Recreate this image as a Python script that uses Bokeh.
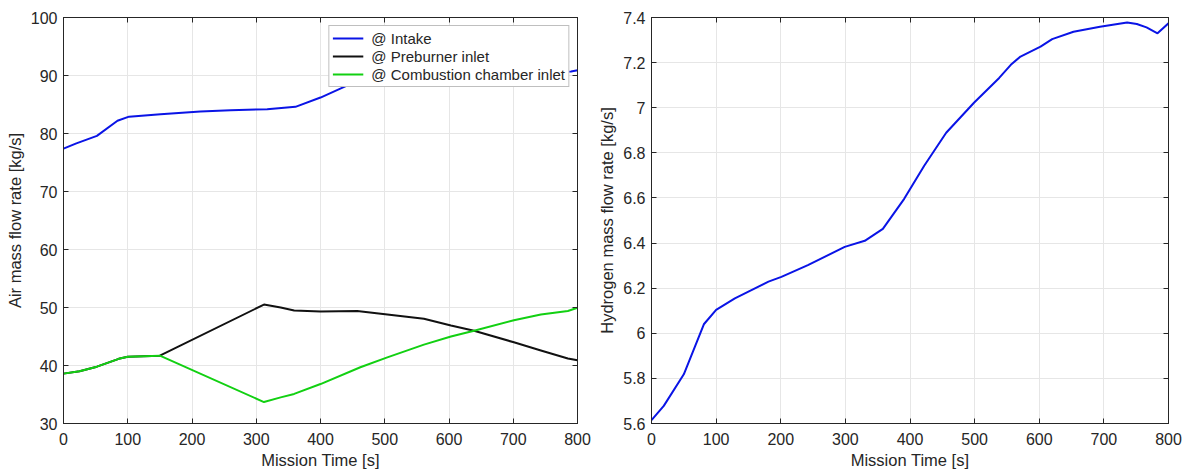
from bokeh.plotting import figure
from bokeh.layouts import row
from bokeh.models import (LinearAxis, FixedTicker, Range1d, Legend, LegendItem,
                          CustomJSTickFormatter, CustomLabelingPolicy)
from bokeh.embed import file_html
from bokeh.resources import INLINE

# ---------------- data ----------------
t_intake = [0, 20, 52, 84, 102, 151, 213, 260, 317, 361, 400, 442, 500, 560, 620, 700, 790, 800]
intake = [77.4, 78.3, 79.6, 82.2, 82.9, 83.3, 83.8, 84.0, 84.2, 84.6, 86.2, 88.3, 89.5, 90.0,
          90.2, 90.4, 90.7, 90.9]

t_pre = [0, 25, 52, 86, 100, 150, 312, 338, 359, 400, 457, 504, 561, 603, 639, 701, 743, 785, 800]
pre = [38.6, 39.0, 39.8, 41.15, 41.5, 41.7, 50.5, 50.0, 49.5, 49.3, 49.4, 48.8, 48.05, 46.9,
       46.0, 44.0, 42.6, 41.2, 40.9]

t_cc = [0, 25, 52, 86, 100, 150, 312, 338, 359, 400, 462, 504, 561, 603, 639, 701, 743, 785, 800]
cc = [38.6, 39.0, 39.8, 41.15, 41.5, 41.7, 33.7, 34.5, 35.1, 36.8, 39.7, 41.4, 43.6, 45.0,
      46.0, 47.8, 48.8, 49.4, 49.95]

t_h2 = [0, 19, 50, 81, 100, 129, 150, 181, 201, 242, 299, 330, 358, 391, 422, 456, 499, 538,
        556, 571, 602, 620, 653, 694, 736, 751, 766, 783, 800]
h2 = [5.615, 5.678, 5.818, 6.04, 6.104, 6.155, 6.185, 6.229, 6.25, 6.302, 6.383, 6.41, 6.463,
      6.596, 6.743, 6.889, 7.022, 7.132, 7.19, 7.227, 7.271, 7.304, 7.337, 7.359, 7.378, 7.371,
      7.356, 7.33, 7.374]

x_ticks = [0, 100, 200, 300, 400, 500, 600, 700, 800]
y1_ticks = [30, 40, 50, 60, 70, 80, 90, 100]
y2_ticks = [5.6, 5.8, 6.0, 6.2, 6.4, 6.6, 6.8, 7.0, 7.2, 7.4]

labels = ["@ Intake", "@ Preburner inlet", "@ Combustion chamber inlet"]

FONT = "Liberation Sans"
TXT = "#262626"
AX = "#262626"
GRID = "#e6e6e6"
BLUE = "#0a14e6"
GREEN = "#12d012"
BLACK = "#111111"


def style(p, xt, yt, ylabel, yfmt=None):
    p.xaxis.ticker = FixedTicker(ticks=xt)
    p.yaxis.ticker = FixedTicker(ticks=yt)
    if yfmt is not None:
        p.yaxis.formatter = yfmt
    for ax in p.xaxis + p.yaxis:
        ax.major_tick_in = 5
        ax.major_tick_out = 0
        ax.minor_tick_line_color = None
        ax.axis_line_color = AX
        ax.major_tick_line_color = AX
        ax.major_label_text_font = FONT
        ax.major_label_text_font_size = "16px"
        ax.major_label_text_color = TXT
        ax.axis_label_text_font = FONT
        ax.axis_label_text_font_size = "16.5px"
        ax.axis_label_text_font_style = "normal"
        ax.axis_label_text_color = TXT
        ax.major_label_standoff = 6
    p.xaxis.axis_label = "Mission Time [s]"
    p.xaxis.major_label_standoff = 9
    p.xaxis.axis_label_standoff = 3
    p.yaxis.axis_label = ylabel
    p.yaxis.axis_label_standoff = 4
    p.xgrid.ticker = FixedTicker(ticks=xt)
    p.ygrid.ticker = FixedTicker(ticks=yt)
    p.grid.grid_line_color = GRID
    p.outline_line_color = AX
    p.outline_line_alpha = 1.0
    # mirrored ticks on top and right (MATLAB box), without labels
    for loc in ("above", "right"):
        a = LinearAxis(ticker=FixedTicker(ticks=xt if loc == "above" else yt))
        a.major_tick_in = 5
        a.major_tick_out = 0
        a.minor_tick_line_color = None
        a.major_label_policy = CustomLabelingPolicy(code="return []")
        a.major_label_text_font_size = "1px"
        a.major_label_standoff = 0
        a.axis_line_color = AX
        a.major_tick_line_color = AX
        p.add_layout(a, loc)


# ---------------- left figure ----------------
p1 = figure(width=595, height=473, output_backend="svg", toolbar_location=None,
            x_range=Range1d(0, 800), y_range=Range1d(30, 100),
            min_border_left=63, min_border_right=18, min_border_top=17, min_border_bottom=50)
p1.background_fill_color = "white"
style(p1, x_ticks, y1_ticks, "Air mass flow rate [kg/s]")

r1 = p1.line(t_intake, intake, line_color=BLUE, line_width=2)
r2 = p1.line(t_pre, pre, line_color=BLACK, line_width=2)
r3 = p1.line(t_cc, cc, line_color=GREEN, line_width=2)

leg = Legend(items=[LegendItem(label=labels[0], renderers=[r1]),
                    LegendItem(label=labels[1], renderers=[r2]),
                    LegendItem(label=labels[2], renderers=[r3])],
             location="top_right")
leg.margin = 8
leg.padding = 3
leg.spacing = 0
leg.glyph_width = 31
leg.glyph_height = 18
leg.label_height = 18
leg.label_standoff = 8
leg.label_text_font = FONT
leg.label_text_font_size = "15px"
leg.label_text_color = TXT
leg.border_line_color = "#808080"
leg.border_line_width = 1
leg.background_fill_color = "white"
leg.background_fill_alpha = 1.0
p1.add_layout(leg, "center")

# ---------------- right figure ----------------
fmt = CustomJSTickFormatter(code="return String(Math.round(tick*10)/10);")
p2 = figure(width=594, height=473, output_backend="svg", toolbar_location=None,
            x_range=Range1d(0, 800), y_range=Range1d(5.6, 7.4),
            min_border_left=55, min_border_right=21, min_border_top=14, min_border_bottom=50)
style(p2, x_ticks, y2_ticks, "Hydrogen mass flow rate [kg/s]", fmt)
p2.line(t_h2, h2, line_color=BLUE, line_width=2)

layout = row(p1, p2)
open("out.html", "w").write(file_html(layout, INLINE))
